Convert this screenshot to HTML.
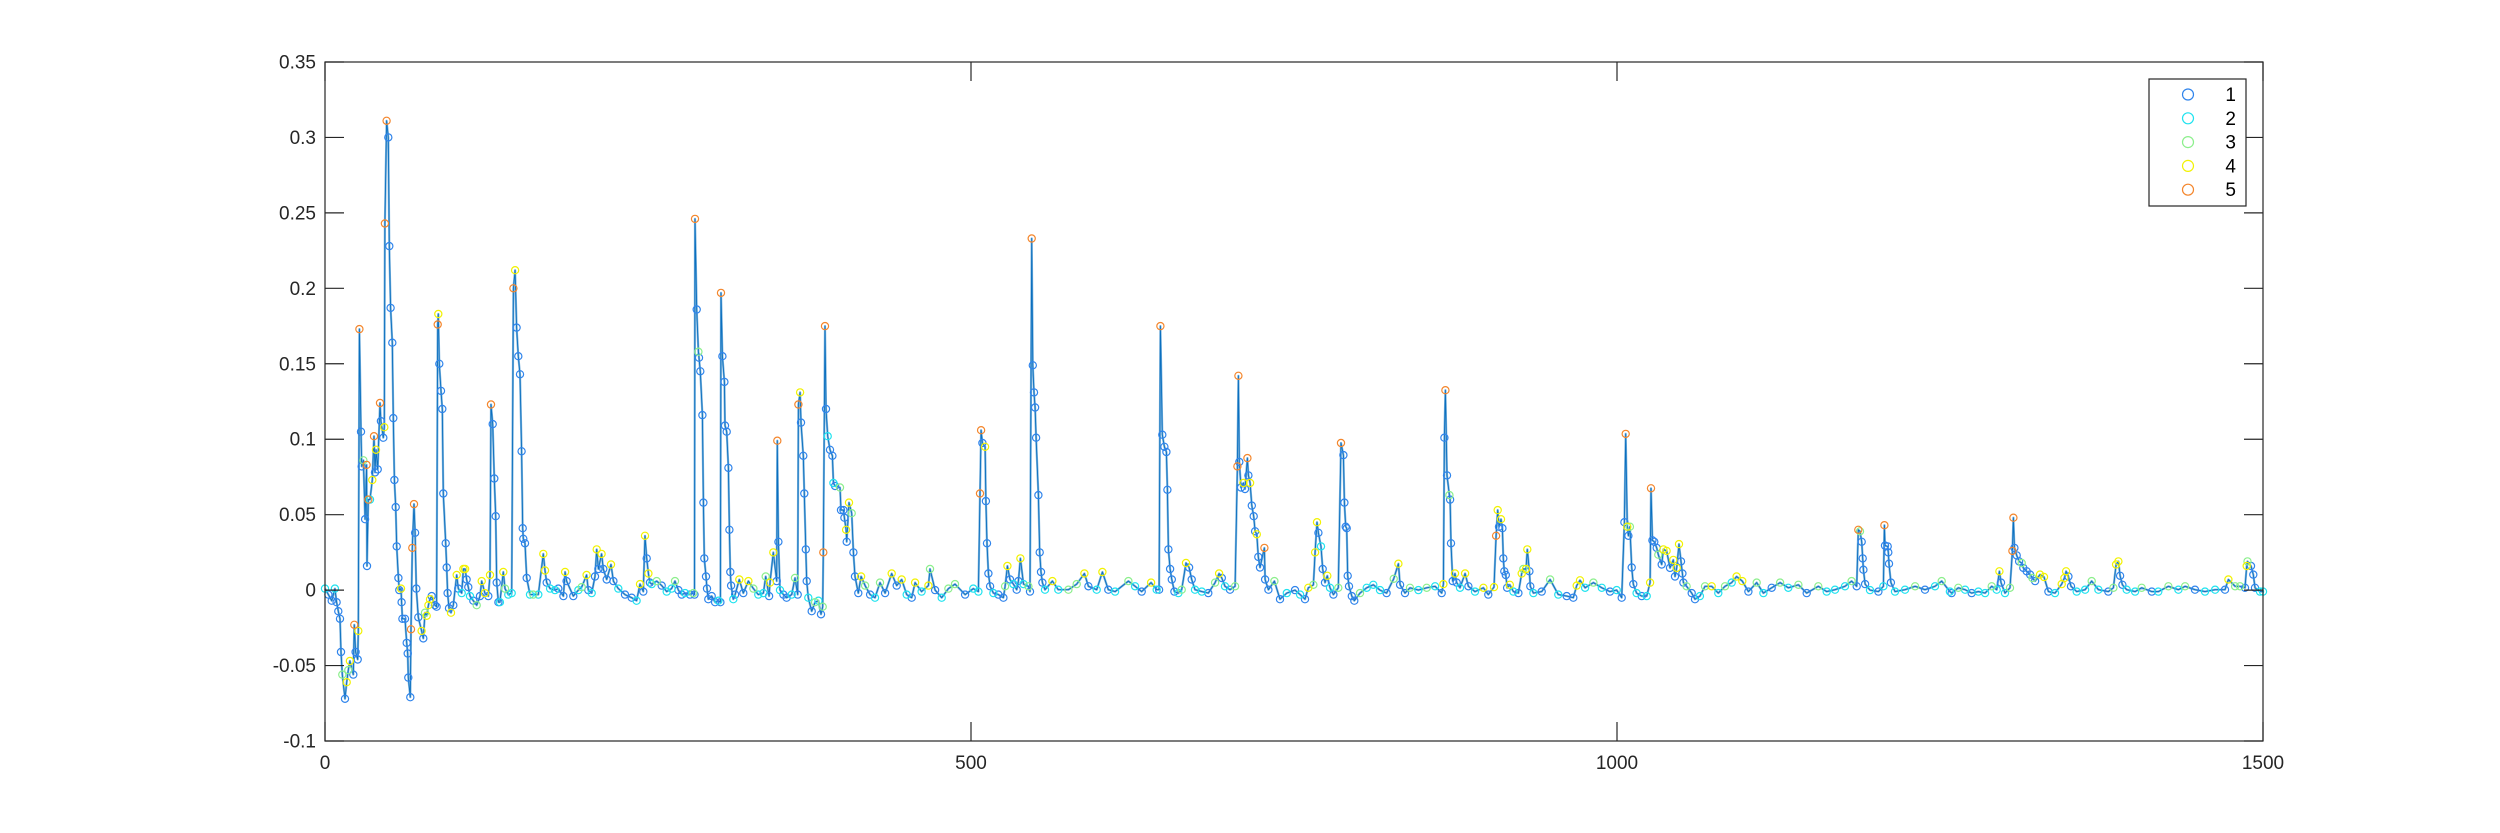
<!DOCTYPE html>
<html><head><meta charset="utf-8"><title>Chart</title>
<style>
html,body{margin:0;padding:0;background:#fff;}
svg{display:block;font-family:"Liberation Sans",Arial,sans-serif;}
</style></head>
<body>
<svg id="chart" width="2500" height="833" viewBox="0 0 2500 833" xmlns="http://www.w3.org/2000/svg">
<rect x="0" y="0" width="2500" height="833" fill="#fff"/>
<g id="plot"></g>
<g id="axes"></g>
<g id="legend"></g>
</svg>
<script>
const xTicks=[0,500,1000,1500];
const xTickLabels=["0","500","1000","1500"];
const yTicks=[-0.1,-0.05,0,0.05,0.1,0.15,0.2,0.25,0.3,0.35];
const yTickLabels=["-0.1","-0.05","0","0.05","0.1","0.15","0.2","0.25","0.3","0.35"];
const legendLabels=["1","2","3","4","5"];

const xsA=[0,2.6,5.2,7.7,9,10.3,11.6,12.4,13.4,15.5,16.8,18,19.3,21.9,22.7,23.7,25.3,25.8,26.6,27.9,28.4,29.7,31,32.2,32.5,33.5,34.8,36.6,37.9,38.7,39.5,40.8,42.6,43.3,45.1,45.9,46.4,47.7,49,49.8,50.8,52.1,52.9,53.7,54.7,55.5,56.8,57.5,58.8,59.3,59.9,61.9,63.2,64,64.5,66,66.6,67.6,68.9,69.7,70.7,72.2,74.8,76.1,77.4,78.7,80,81.3,82.6,85.1,86.4,87.2,87.7,88.5,89.8,90.8,91.6,93.4,94.2,94.9,96,97.5,99.3,101.9,103.2,105.8,107.1,108.4,109.6,110.9,112.2,114.8,117.4,120,121.3,123.8,126.4,127.7,128.5,129.8,131,132.1,132.9,134.2,135.4,138,139.3,141.9,144.5,145.8,147.1,148.3,149.6,150.9,152.2,153,153.5,154.8,156.1,158.7,161.2,165.1,169,170.3,171.6,174.2,178,180.6,184.5,185.8,187,192.2,196.1,198.7,202.5,203.8,206.4,209,210.3,211.6,214.1,215.4,218,221.4,223.2,227,232.2,237.4,241.2,243.8,246.4,247.7,249,250.3,251.5];
const ysA=[0.001,-0.003,-0.007,0.001,-0.008,-0.014,-0.019,-0.041,-0.056,-0.072,-0.061,-0.053,-0.047,-0.056,-0.023,-0.041,-0.046,-0.027,0.173,0.105,0.082,0.086,0.047,0.083,0.016,0.06,0.06,0.073,0.102,0.078,0.093,0.08,0.124,0.112,0.101,0.108,0.243,0.311,0.3,0.228,0.187,0.164,0.114,0.073,0.055,0.029,0.008,0,0.001,-0.008,-0.019,-0.019,-0.035,-0.042,-0.058,-0.071,-0.026,0.028,0.057,0.038,0.001,-0.018,-0.027,-0.032,-0.015,-0.017,-0.01,-0.006,-0.004,-0.01,-0.011,0.176,0.183,0.15,0.132,0.12,0.064,0.031,0.015,-0.002,-0.012,-0.015,-0.01,0.01,0.001,-0.002,0.014,0.014,0.007,0.002,-0.004,-0.007,-0.01,-0.004,0.006,-0.002,-0.004,0.01,0.123,0.11,0.074,0.049,0.005,-0.008,-0.008,0.012,0.001,-0.003,-0.002,0.2,0.212,0.174,0.155,0.143,0.092,0.041,0.034,0.031,0.008,-0.003,-0.003,-0.003,0.024,0.013,0.005,0.001,0,0.001,-0.004,0.012,0.006,-0.004,0,0.002,0.01,0,-0.002,0.009,0.027,0.014,0.024,0.014,0.007,0.017,0.006,0.001,-0.003,-0.005,-0.007,0.004,-0.001,0.036,0.021,0.011,0.005];
const gA=[2,1,1,2,1,1,1,1,3,1,4,3,4,1,5,1,1,4,5,1,1,3,1,5,1,5,2,4,5,1,4,1,5,1,1,4,5,5,1,1,1,1,1,1,1,1,1,1,4,1,1,1,1,1,1,1,5,5,5,1,1,1,4,1,3,4,4,4,1,1,1,5,4,1,1,1,1,1,1,1,1,4,1,4,1,2,4,4,1,1,2,1,3,1,4,4,1,4,5,1,1,1,1,1,2,4,3,2,2,5,4,1,1,1,1,1,1,1,1,2,3,2,4,4,1,2,2,1,1,4,1,1,2,3,4,1,2,1,4,1,4,1,1,4,1,2,1,1,2,4,1,4,1,4,1];

const xsB=[252.9,256.7,260.6,264.5,268.3,270.9,273.5,276.1,278.7,282.5,285.1,286,286.4,287.7,289,289.5,290.5,292.1,292.9,293.6,294.9,295.7,296.7,299.3,301.9,304.5,306,306.5,307.6,309.1,309.6,310.9,312.2,313,313.7,314.3,316,317.4,320.7,323.8,327.7,331.6,335.4,339.3,341.1,343.7,344.4,347,349.6,350.1,350.9,352.2,354.8,357.3,361.2,363.8,365.9,366.4,367.7,368.4,370.2,371,372.1,372.8,374.1,376.7,379.3,381.9,383.9,385.2,385.7,387,387.8,389.1,390.9,392.7,393.5,394.8,398.6,399.4,401.2,402,403.3,403.8,405.6,407.7,409,410.2,412.8,414.9,418,421.9,425.7,429.6,433.5,438.6,442.5,446.4,450.2,454.1,456.7,461.8,467,468.3,472.2,477.3,482.5,487.6,495.4,501.8];
const ysB=[0.004,0.006,0.003,-0.001,0.001,0.006,0,-0.003,-0.002,-0.003,-0.002,-0.003,0.246,0.186,0.158,0.154,0.145,0.116,0.058,0.021,0.009,0.001,-0.006,-0.004,-0.008,-0.007,-0.008,0.197,0.155,0.138,0.109,0.105,0.081,0.04,0.012,0.003,-0.006,-0.003,0.007,-0.002,0.006,0.001,-0.003,-0.002,0.009,-0.004,0.005,0.025,0.006,0.099,0.032,0,-0.003,-0.005,-0.003,0.008,-0.003,0.123,0.131,0.111,0.089,0.064,0.027,0.006,-0.005,-0.014,-0.008,-0.007,-0.016,-0.011,0.025,0.175,0.12,0.102,0.093,0.089,0.071,0.069,0.068,0.053,0.053,0.048,0.04,0.032,0.058,0.051,0.025,0.009,-0.002,0.009,0.003,-0.003,-0.005,0.005,-0.002,0.011,0.003,0.007,-0.003,-0.005,0.005,-0.001,0.003,0.014,0,-0.005,0.001,0.004,-0.003,0.001];
const gB=[2,3,1,2,2,3,1,1,2,1,3,1,5,1,3,1,1,1,1,1,1,1,1,1,1,2,1,5,1,1,1,1,1,1,1,1,2,1,4,1,4,3,2,2,3,1,4,4,1,5,1,2,1,1,2,3,1,5,4,1,1,1,1,1,2,1,3,2,1,3,5,5,1,2,1,1,2,1,3,1,1,1,4,1,4,3,1,1,1,4,3,1,2,3,1,4,1,4,2,1,4,2,4,3,1,2,3,3,1,2];

const xsC=[505.7,507,507.8,508.8,510.9,511.5,512.4,513.5,514.8,517.3,521.2,525.1,526.4,528.2,530.2,532.8,535.4,536.7,538.2,540.6,544.4,545.7,547,547.8,548.8,549.6,550.4,552.2,553.2,554.2,555.3,557.3,563,567.6,575.4,581.8,587.8,590.9,597.3,601.7,606.3,611.5,621.8,627,632.1,639.4,643.7,645.6,646.6,648.1,649.7,651.2,652,652.8,654.1,655.4,657.4,660.5,663.1,666.4,668.8,670.8,673.4,678.6,683.7,688.9,692,694.1,696.6,700.5,704.4,706.2,707,707.7,709,710.8,712.1,713.9,714.7,716,717.3,718.8,719.9,721.2,722.4,723.7,727.1,727.6,730.2,734.8,739.2,744.4,750.8];
const ysC=[-0.001,0.064,0.106,0.0975,0.095,0.059,0.031,0.011,0.0025,-0.002,-0.003,-0.005,0.0025,0.016,0.007,0.004,0.0003,0.006,0.021,0.004,0.0025,-0.001,0.233,0.149,0.131,0.121,0.101,0.063,0.025,0.012,0.005,0.0003,0.006,0.0003,0.0003,0.004,0.011,0.0025,0.0003,0.012,0.0003,-0.001,0.006,0.0025,-0.001,0.005,0.0003,0.0003,0.175,0.103,0.095,0.0915,0.0665,0.027,0.014,0.007,-0.001,-0.002,0.0003,0.018,0.015,0.007,0.0003,-0.001,-0.002,0.005,0.011,0.008,0.0025,0.0003,0.0025,0.082,0.142,0.085,0.068,0.071,0.067,0.0875,0.076,0.071,0.056,0.049,0.039,0.037,0.022,0.015,0.028,0.007,0.0003,0.006,-0.006,-0.002,0];
const gC=[2,5,5,1,4,1,1,1,1,2,1,1,3,4,1,2,1,1,4,2,3,1,5,1,1,1,1,1,1,1,1,2,4,2,3,3,4,1,2,4,1,2,3,2,1,4,2,1,5,1,1,1,1,1,1,1,1,2,3,4,1,1,2,2,1,3,4,1,2,1,3,5,5,1,1,4,1,5,1,4,1,1,1,4,1,1,5,1,1,3,1,2,1];

const xsD=[754.7,758.5,761.1,765,766.3,767.8,768.9,770.9,772.2,774,775.8,777.9,780.5,784.3,786.4,788.2,789,790,790.8,791.6,792.6,794.7,796.7,801.1,806.3,811.4,816.6,821.7,827.2,830.8,832.1,835.9,839.8,846.3,852.7,859.2,864.3,865.6,866.4,867.2,868.4,870.3,870.8,871.5,872.8,874.6,875.9,878.5,882.4,885,890.1,896.6,900.4,904.8,906.4,907.7,908.7,910.2,911.3,912,912.8,913.9,914.9,917,919.8,923.7,926.2,927.5,929.6,930.6,932.2,932.9,935.3,941.7,948.2,954.6,961.1,966.2,968.8,971.4,975.3,981.7,988.2,994.6,999.8,1003.6];
const ysD=[-0.003,-0.006,0.0015,0.0035,0.025,0.045,0.038,0.029,0.014,0.005,0.0095,0.0015,-0.003,0.0015,0.0975,0.0895,0.058,0.042,0.041,0.0095,0.0025,-0.004,-0.007,-0.002,0.0015,0.0035,0,-0.002,0.0075,0.0175,0.0035,-0.002,0.0015,0,0.0015,0.0025,-0.002,0.004,0.101,0.1325,0.076,0.063,0.06,0.031,0.006,0.011,0.005,0.0015,0.011,0.0025,-0.001,0.0015,-0.003,0.002,0.036,0.053,0.042,0.047,0.041,0.021,0.0125,0.01,0.0015,0.0035,-0.001,-0.002,0.011,0.014,0.014,0.027,0.0125,0.0025,-0.002,-0.001,0.007,-0.003,-0.004,-0.005,0.003,0.0065,0.0015,0.005,0.0015,-0.001,0,-0.005];
const gD=[2,1,4,3,4,4,1,2,1,1,4,2,1,3,5,1,1,1,1,1,1,1,1,3,2,2,2,1,3,4,1,1,3,2,3,2,1,4,1,5,1,3,1,1,1,4,1,2,4,1,2,4,1,4,5,4,1,4,1,1,1,1,1,4,2,1,4,3,4,4,1,1,2,1,3,2,1,1,4,4,2,3,2,1,2,1];

const xsE=[1005.7,1006.7,1008,1008.8,1010,1011.4,1012.6,1015.2,1019.1,1023,1025.6,1026.3,1027.4,1028.9,1030.7,1032,1034.6,1035.9,1038.4,1041,1043.6,1044.9,1046.2,1048,1049.5,1050.6,1051.4,1053.9,1057.8,1060.4,1064.2,1068.1,1073.3,1078.4,1083.6,1088.8,1092.6,1097,1101.7,1108.1,1113.3,1119.7,1126.2,1132.6,1140.4,1146.8,1155.8,1162.3,1168.7,1176.5,1181.6,1185.5,1186.8,1188.1,1189.4,1190.2,1190.7,1192,1195.8,1202.3,1206.2,1207,1207.4,1209.5,1210,1210.5,1212,1215.2,1222.9,1230.7,1238.4,1246.1,1251.3,1257.7];
const ysE=[0.045,0.1035,0.042,0.036,0.042,0.015,0.004,-0.002,-0.004,-0.004,0.005,0.0675,0.033,0.032,0.028,0.0235,0.017,0.027,0.026,0.0147,0.02,0.009,0.0147,0.0305,0.019,0.011,0.005,0.0025,-0.002,-0.006,-0.004,0.0025,0.0025,-0.002,0.0025,0.005,0.009,0.006,-0.001,0.005,-0.002,0.0015,0.005,0.0015,0.0035,-0.002,0.0025,-0.001,0.0003,0.0025,0.006,0.0025,0.04,0.039,0.032,0.021,0.0135,0.004,0,-0.001,0.0025,0.043,0.0295,0.029,0.025,0.0175,0.005,-0.001,0.0003,0.0025,0.0003,0.0025,0.006,-0.001];
const gE=[1,5,4,1,3,1,1,2,1,2,4,5,1,1,1,3,1,4,4,1,4,1,4,4,1,1,1,3,1,1,2,3,4,2,3,2,4,4,1,3,2,1,3,2,3,1,3,2,2,2,3,1,5,3,1,1,1,1,2,1,2,5,1,1,1,1,1,2,2,3,1,2,3,2];

const xsF=[1259,1264.2,1269.4,1274.5,1279.7,1284.9,1290,1293.9,1296,1297.2,1300.3,1304.2,1306,1306.8,1307.6,1309.4,1311.2,1313.2,1314.5,1317.1,1319.7,1321.5,1323.6,1327.4,1330.5,1333.9,1339,1344.2,1346.3,1347.6,1349.4,1351.4,1355.8,1362.3,1367.4,1372.6,1380.3,1384.2,1386.3,1388.1,1389.4,1391.2,1394.5,1401,1406.1,1413.9,1419,1426.8,1434.5,1439.7,1447.4,1455.1,1462.9,1470.6,1473.2,1478.4,1482.2,1486.1,1487.4,1488,1490.7,1492.5,1493.8,1497.7,1500];
const ysF=[-0.002,0.0015,0.0003,-0.002,-0.001,-0.002,0.0025,0.0003,0.0125,0.005,-0.002,0.0015,0.026,0.048,0.028,0.023,0.019,0.018,0.0147,0.0125,0.0103,0.008,0.006,0.0103,0.0087,-0.001,-0.002,0.004,0.008,0.0125,0.009,0.0025,-0.001,0.0003,0.006,0.0003,-0.001,0.0015,0.017,0.019,0.0095,0.0035,0.0003,-0.001,0.0015,-0.001,-0.001,0.0025,0.0003,0.0025,0.0003,-0.001,0.0003,0.0003,0.007,0.0025,0.0025,0.0015,0.016,0.019,0.016,0.0103,0.0015,-0.001,-0.001];
const gF=[1,3,2,1,2,2,3,2,4,1,2,3,5,5,1,1,1,3,1,1,1,3,1,4,4,1,2,4,4,4,1,1,2,2,3,2,1,3,4,4,1,1,2,2,3,1,2,3,2,3,1,2,2,1,4,3,3,1,4,3,1,1,1,2,2];

const xs=[].concat(xsA,xsB,xsC,xsD,xsE,xsF);
const ys=[].concat(ysA,ysB,ysC,ysD,ysE,ysF);
const grp=[].concat(gA,gB,gC,gD,gE,gF);

const NS="http://www.w3.org/2000/svg";
const L=325,R=2263,T=62,B=741;
const xMin=0,xMax=1500,yMin=-0.1,yMax=0.35;
function sx(v){return L+(v-xMin)/(xMax-xMin)*(R-L);}
function sy(v){return B-(v-yMin)/(yMax-yMin)*(B-T);}
const colors=["#2f84ec","#1fe3ef","#8cef8c","#f2f200","#f4862c"];
function mk(tag,attrs,parent){const e=document.createElementNS(NS,tag);for(const k in attrs)e.setAttribute(k,attrs[k]);parent.appendChild(e);return e;}

const plot=document.getElementById('plot');
const axes=document.getElementById('axes');
const legend=document.getElementById('legend');

// line
const n=Math.min(xs.length,ys.length,grp.length);
let pts=[];
for(let i=0;i<n;i++){pts.push(sx(xs[i]).toFixed(1)+","+sy(ys[i]).toFixed(1));}
const l1=mk('polyline',{points:pts.join(' '),fill:'none',stroke:'#7fb5de','stroke-width':2.2,'stroke-linejoin':'round'},plot);


const l2=mk('polyline',{points:pts.join(' '),fill:'none',stroke:'#0a6fbf','stroke-width':0.9,'stroke-linejoin':'round'},plot);



// markers, drawn group by group
for(let g=1;g<=5;g++){
  for(let i=0;i<n;i++){
    if(grp[i]!==g)continue;
    const c=mk('circle',{cx:sx(xs[i]).toFixed(1),cy:sy(ys[i]).toFixed(1),r:3.6,fill:'none',stroke:colors[g-1],'stroke-width':1.2},plot);
    
    
  }
}

// axes box
const box=mk('rect',{x:L,y:T,width:R-L,height:B-T,fill:'none',stroke:'#262626','stroke-width':1.2},axes);



const TL=19;
yTicks.forEach((v,i)=>{
  const y=sy(v);
  const t1=mk('line',{x1:L,x2:L+TL,y1:y,y2:y,stroke:'#262626','stroke-width':1.2},axes);
  
  
  const t2=mk('line',{x1:R-TL,x2:R,y1:y,y2:y,stroke:'#262626','stroke-width':1.2},axes);
  
  
  const tx=mk('text',{x:L-9,y:y+6.5,'text-anchor':'end','font-size':19,fill:'#262626'},axes);
  tx.textContent=yTickLabels[i];
  
  
});
xTicks.forEach((v,i)=>{
  const x=sx(v);
  const t1=mk('line',{x1:x,x2:x,y1:B,y2:B-TL,stroke:'#262626','stroke-width':1.2},axes);
  
  
  const t2=mk('line',{x1:x,x2:x,y1:T,y2:T+TL,stroke:'#262626','stroke-width':1.2},axes);
  
  
  const tx=mk('text',{x:x,y:B+28,'text-anchor':'middle','font-size':19,fill:'#262626'},axes);
  tx.textContent=xTickLabels[i];
  
  
});

// legend
const lb=mk('rect',{x:2149,y:79,width:97,height:127,fill:'#fff',stroke:'#262626','stroke-width':1.2},legend);


legendLabels.forEach((lab,i)=>{
  const y=94.5+i*23.8;
  const c=mk('circle',{cx:2188,cy:y,r:5.5,fill:'none',stroke:colors[i],'stroke-width':1.2},legend);
  
  
  const t=mk('text',{x:2236,y:y+6.5,'text-anchor':'end','font-size':19,fill:'#000'},legend);
  t.textContent=lab;
  
  
});
</script>
</body></html>
